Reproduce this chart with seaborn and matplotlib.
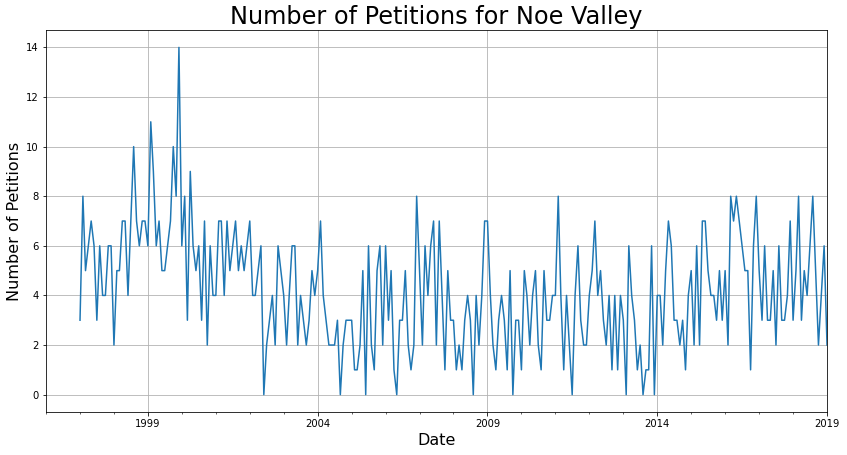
import matplotlib
matplotlib.use("Agg")
import matplotlib.pyplot as plt
import matplotlib.dates as mdates
import seaborn as sns
import pandas as pd

# monthly petition counts, Jan 1997 .. Jan 2019
petitions = [
    3, 8, 5, 6, 7, 6, 3, 6, 4, 4, 6, 6, 2, 5, 5, 7, 7, 4, 7, 10, 7, 6,
    7, 7, 6, 11, 9, 6, 7, 5, 5, 6, 7, 10, 8, 14, 6, 8, 3, 9, 6, 5, 6, 3,
    7, 2, 6, 4, 4, 7, 7, 4, 7, 5, 6, 7, 5, 6, 5, 6, 7, 4, 4, 5, 6, 0,
    2, 3, 4, 2, 6, 5, 4, 2, 4, 6, 6, 2, 4, 3, 2, 3, 5, 4, 5, 7, 4,
    3, 2, 2, 2, 3, 0, 2, 3, 3, 3, 1, 1, 2, 5, 0, 6, 2, 1, 5, 6, 2, 6, 3,
    5, 1, 0, 3, 3, 5, 2, 1, 2, 8, 5, 2, 6, 4, 6, 7, 2, 7, 4, 1, 5, 3,
    3, 1, 2, 1, 3, 4, 3, 0, 4, 2, 4, 7, 7, 4, 2, 1, 3, 4, 3, 1, 5, 0, 3,
    3, 1, 5, 4, 2, 4, 5, 2, 1, 5, 3, 3, 4, 4, 8, 4, 1, 4, 2, 0, 4, 6,
    3, 2, 2, 4, 5, 7, 4, 5, 3, 2, 4, 1, 4, 1, 4, 3, 0, 6, 4, 3, 1, 2, 0,
    1, 1, 6, 0, 4, 4, 2, 5, 7, 6, 3, 3, 2, 3, 1, 4, 5, 2, 6, 2, 7, 7, 5,
    4, 4, 3, 5, 3, 5, 2, 8, 7, 8, 7, 6, 5, 5, 1, 6, 8, 5, 3, 6, 3, 3,
    5, 2, 6, 3, 3, 4, 7, 3, 5, 8, 3, 5, 4, 6, 8, 5, 2, 4, 6, 2,
]
start_month = "1997-01-01"
axis_start = "1996-01-01"
axis_end = "2019-01-01"
tick_years = [1999, 2004, 2009, 2014, 2019]

df = pd.DataFrame({
    "Date": pd.date_range(start_month, periods=len(petitions), freq="MS"),
    "Petitions": petitions,
})

fig = plt.figure(figsize=(847 / 72, 455 / 72), dpi=72)
ax = fig.add_axes([0.0543, 0.0945, 0.9221, 0.8395])

sns.lineplot(data=df, x="Date", y="Petitions", ax=ax, color="#1f77b4", linewidth=1.5)

ax.set_xlim(pd.Timestamp(axis_start), pd.Timestamp(axis_end))
ax.set_ylim(-0.7, 14.7)
ax.set_yticks(range(0, 15, 2))
ax.set_xticks([pd.Timestamp(f"{y}-01-01") for y in tick_years])
ax.xaxis.set_major_formatter(mdates.DateFormatter("%Y"))
ax.xaxis.set_minor_locator(mdates.YearLocator(1))
ax.grid(True, color="#b0b0b0", linewidth=0.8)
ax.tick_params(labelsize=10)

ax.set_title("Number of Petitions for Noe Valley", fontsize=24)
ax.set_xlabel("Date", fontsize=16)
ax.set_ylabel("Number of Petitions", fontsize=16)

fig.savefig("out.png", dpi=72)
plt.close(fig)
